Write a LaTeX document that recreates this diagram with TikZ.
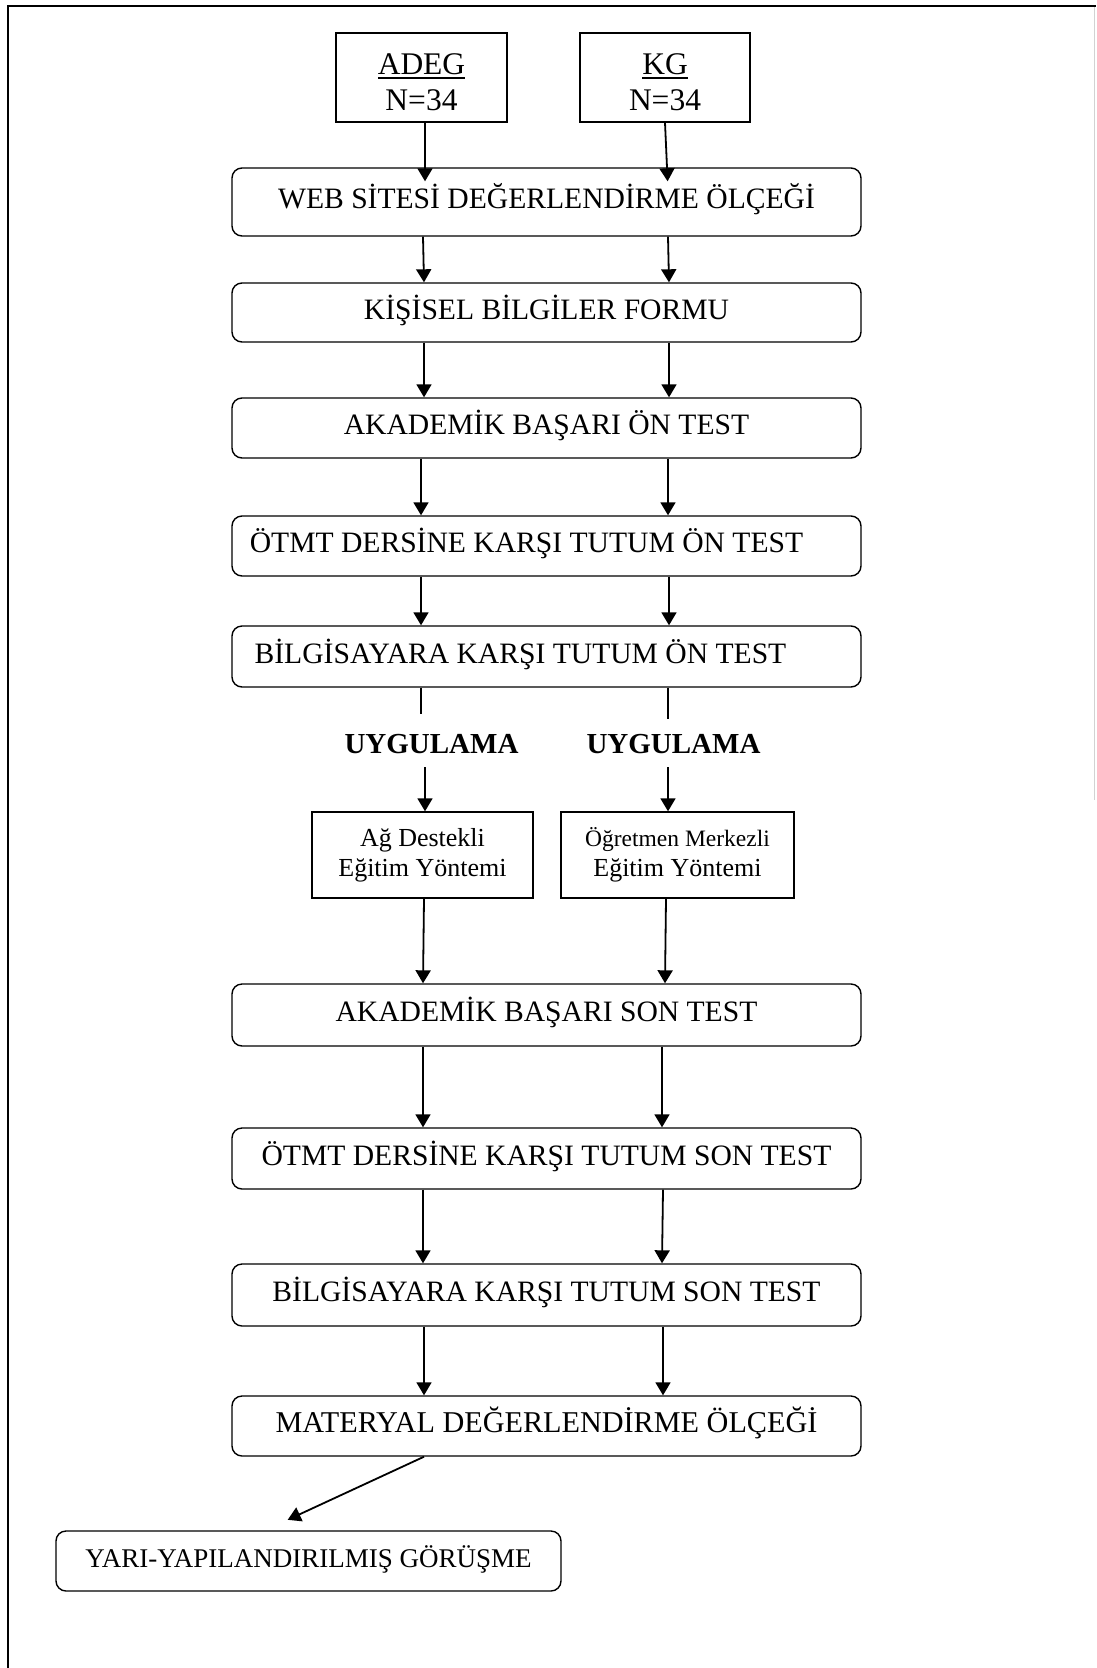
\documentclass[tikz,border=0pt]{standalone}
\usepackage{fontspec}
\setmainfont{Liberation Serif}
\usetikzlibrary{arrows.meta}
\newcommand\myul[1]{\setbox0\hbox{#1}\rlap{\rule[-4pt]{\wd0}{1.5pt}}\box0}
\begin{document}
\begin{tikzpicture}[x=1pt,y=-1pt,
  big/.style={draw, rounded corners=10pt, line width=1.4pt, minimum width=629pt, inner sep=0pt,
    text height=20pt, text depth=7pt, font=\fontsize{29.6}{34}\selectfont},
  sq/.style={draw, line width=1.4pt, inner sep=0pt, align=center},
  lbl/.style={font=\bfseries\fontsize{29}{34}\selectfont, text height=20pt, text depth=0pt,
    inner xsep=0pt, inner ysep=14pt},
  arr/.style={line width=1.8pt, -{Triangle[length=13pt,width=15pt]}},
  plain/.style={line width=1.2pt},
  frame/.style={line width=2.4pt}
  ]
\useasboundingbox (0,0) rectangle (1096,1668);
% outer frame (right and bottom sides cut off)
\draw[frame] (8,1668) -- (8,6) -- (1096,6);
\draw[gray!35, line width=1pt] (1094.5,7) -- (1094.5,800);

% column coordinates
\foreach \v in {265,421,423,424,425,662,663,665,666,667,668,669}
  \coordinate (x\v) at (\v,0);

% group boxes
\node[sq, minimum width=171pt, minimum height=89pt, font=\fontsize{31.5}{36}\selectfont] (adeg) at (421.5,77.5) {\rule{0pt}{31pt}\myul{ADEG}\\N=34};
\node[sq, minimum width=170pt, minimum height=89pt, font=\fontsize{31.5}{36}\selectfont] (kg) at (665,77.5) {\rule{0pt}{31pt}\myul{KG}\\N=34};

% main steps
\node[big, minimum height=68pt] (web) at (546.5,202) {WEB SİTESİ DEĞERLENDİRME ÖLÇEĞİ};
\node[big, minimum height=59pt] (kis) at (546.5,312.5) {KİŞİSEL BİLGİLER FORMU};
\node[big, minimum height=60pt] (akon) at (546.5,428) {AKADEMİK BAŞARI ÖN TEST};
\node[big, minimum height=60pt] (otmton) at (546.5,546) {ÖTMT DERSİNE KARŞI TUTUM ÖN TEST\hspace*{40pt}};
\node[big, minimum height=61pt] (bilon) at (546.5,656.5) {BİLGİSAYARA KARŞI TUTUM ÖN TEST\hspace*{52pt}};

\node[lbl] (u1) at (431.5,743) {UYGULAMA};
\node[lbl] (u2) at (673.5,743) {UYGULAMA};

\node[sq, minimum width=221pt, minimum height=86pt, font=\fontsize{26}{30}\selectfont] (ag) at (422.5,855) {Ağ Destekli\\Eğitim Yöntemi};
\node[sq, minimum width=233pt, minimum height=86pt, font=\fontsize{26}{30}\selectfont] (og) at (677.5,855) {{\fontsize{23.5}{28}\selectfont Öğretmen Merkezli}\\Eğitim Yöntemi};

\node[big, minimum height=62pt] (akson) at (546.5,1015) {AKADEMİK BAŞARI SON TEST};
\node[big, minimum height=61pt] (otmtson) at (546.5,1158.5) {ÖTMT DERSİNE KARŞI TUTUM SON TEST};
\node[big, minimum height=62pt] (bilson) at (546.5,1295) {BİLGİSAYARA KARŞI TUTUM SON TEST};
\node[big, minimum height=60pt, font=\fontsize{30.2}{34}\selectfont] (mat) at (546.5,1426) {MATERYAL DEĞERLENDİRME ÖLÇEĞİ};
\node[big, minimum width=505pt, minimum height=60pt, font=\fontsize{27}{32}\selectfont] (yari) at (308.5,1561) {YARI-YAPILANDIRILMIŞ GÖRÜŞME};

% connectors
\draw[arr, shorten >=-14pt] (adeg.south -| x425) -- (web.north -| x425);
\draw[arr, shorten >=-14pt] (kg.south -| x665) -- (web.north -| x667);
\draw[arr] (web.south -| x423) -- (kis.north -| x424);
\draw[arr] (web.south -| x668) -- (kis.north -| x669);
\draw[arr] (kis.south -| x424) -- (akon.north -| x424);
\draw[arr] (kis.south -| x669) -- (akon.north -| x669);
\draw[arr] (akon.south -| x421) -- (otmton.north -| x421);
\draw[arr] (akon.south -| x668) -- (otmton.north -| x668);
\draw[arr] (otmton.south -| x421) -- (bilon.north -| x421);
\draw[arr] (otmton.south -| x669) -- (bilon.north -| x669);
\draw[plain, shorten >=5pt] (bilon.south -| x421) -- (u1.north -| x421);
\draw[plain] (bilon.south -| x668) -- (u2.north -| x668);
\draw[arr] (u1.south -| x425) -- (ag.north -| x425);
\draw[arr] (u2.south -| x668) -- (og.north -| x668);
\draw[arr] (ag.south -| x424) -- (akson.north -| x423);
\draw[arr] (og.south -| x666) -- (akson.north -| x665);
\draw[arr] (akson.south -| x423) -- (otmtson.north -| x423);
\draw[arr] (akson.south -| x662) -- (otmtson.north -| x662);
\draw[arr] (otmtson.south -| x423) -- (bilson.north -| x423);
\draw[arr] (otmtson.south -| x663) -- (bilson.north -| x662);
\draw[arr] (bilson.south -| x424) -- (mat.north -| x424);
\draw[arr] (bilson.south -| x663) -- (mat.north -| x663);
\draw[arr, shorten >=25pt] (mat.south -| x424) -- (yari.north -| x265);
\end{tikzpicture}
\end{document}
